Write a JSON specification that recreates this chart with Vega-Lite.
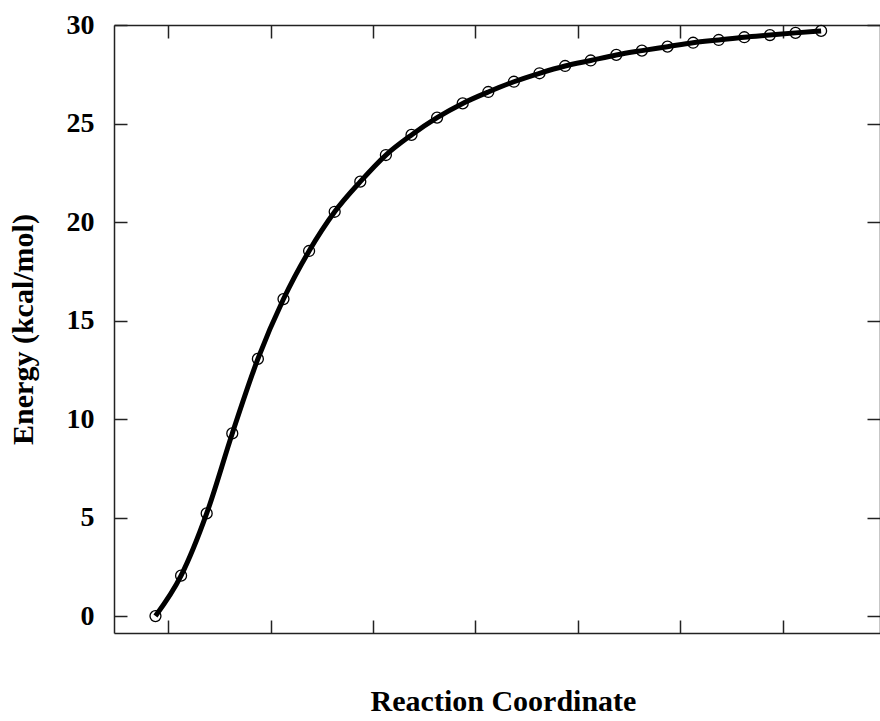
{
  "$schema": "https://vega.github.io/schema/vega-lite/v6.json",
  "width": 766,
  "height": 608,
  "autosize": {"type": "none"},
  "padding": {"left": 114, "top": 25, "right": 0, "bottom": 88},
  "background": "white",
  "config": {
    "view": {"stroke": null},
    "axis": {
      "domainColor": "#222",
      "domainWidth": 1.5,
      "tickColor": "#222",
      "tickWidth": 1.5,
      "grid": false,
      "labelFont": "Liberation Serif",
      "labelFontWeight": "bold",
      "labelFontSize": 28,
      "labelColor": "black",
      "titleFont": "Liberation Serif",
      "titleFontWeight": "bold",
      "titleFontSize": 30,
      "titleColor": "black"
    }
  },
  "data": {
    "values": [
      {"i": 0, "E": 0.0},
      {"i": 1, "E": 2.05},
      {"i": 2, "E": 5.21},
      {"i": 3, "E": 9.27},
      {"i": 4, "E": 13.05},
      {"i": 5, "E": 16.09},
      {"i": 6, "E": 18.53},
      {"i": 7, "E": 20.52},
      {"i": 8, "E": 22.05},
      {"i": 9, "E": 23.4},
      {"i": 10, "E": 24.42},
      {"i": 11, "E": 25.3},
      {"i": 12, "E": 26.02},
      {"i": 13, "E": 26.6},
      {"i": 14, "E": 27.12},
      {"i": 15, "E": 27.55},
      {"i": 16, "E": 27.92},
      {"i": 17, "E": 28.2},
      {"i": 18, "E": 28.48},
      {"i": 19, "E": 28.7},
      {"i": 20, "E": 28.9},
      {"i": 21, "E": 29.1},
      {"i": 22, "E": 29.24},
      {"i": 23, "E": 29.38},
      {"i": 24, "E": 29.49},
      {"i": 25, "E": 29.6},
      {"i": 26, "E": 29.7}
    ]
  },
  "layer": [
    {
      "mark": {"type": "line", "interpolate": "monotone", "color": "black", "strokeWidth": 5},
      "encoding": {
        "x": {
          "field": "i", "type": "quantitative",
          "scale": {"domain": [-1.62, 28.3], "nice": false, "zero": false},
          "axis": {"orient": "bottom", "title": "Reaction Coordinate", "labels": false, "tickSize": -13, "values": [0.5, 4.5, 8.5, 12.5, 16.5, 20.5, 24.5], "titlePadding": 53, "titleX": 389}
        },
        "y": {
          "field": "E", "type": "quantitative",
          "scale": {"domain": [-0.86, 30], "nice": false, "zero": false},
          "axis": {"orient": "left", "title": "Energy (kcal/mol)", "tickSize": -13, "values": [0, 5, 10, 15, 20, 25, 30], "labelPadding": 33, "titlePadding": 28}
        }
      }
    },
    {
      "mark": {"type": "point", "shape": "circle", "filled": false, "color": "black", "size": 120, "strokeWidth": 1.3, "opacity": 1},
      "encoding": {
        "x": {
          "field": "i", "type": "quantitative",
          "axis": {"orient": "top", "title": null, "labels": false, "tickSize": -13, "values": [0.5, 4.5, 8.5, 12.5, 16.5, 20.5, 24.5]}
        },
        "y": {
          "field": "E", "type": "quantitative",
          "axis": {"orient": "right", "title": null, "labels": false, "tickSize": -13, "values": [0, 5, 10, 15, 20, 25, 30]}
        }
      }
    }
  ],
  "resolve": {"axis": {"x": "independent", "y": "independent"}}
}
